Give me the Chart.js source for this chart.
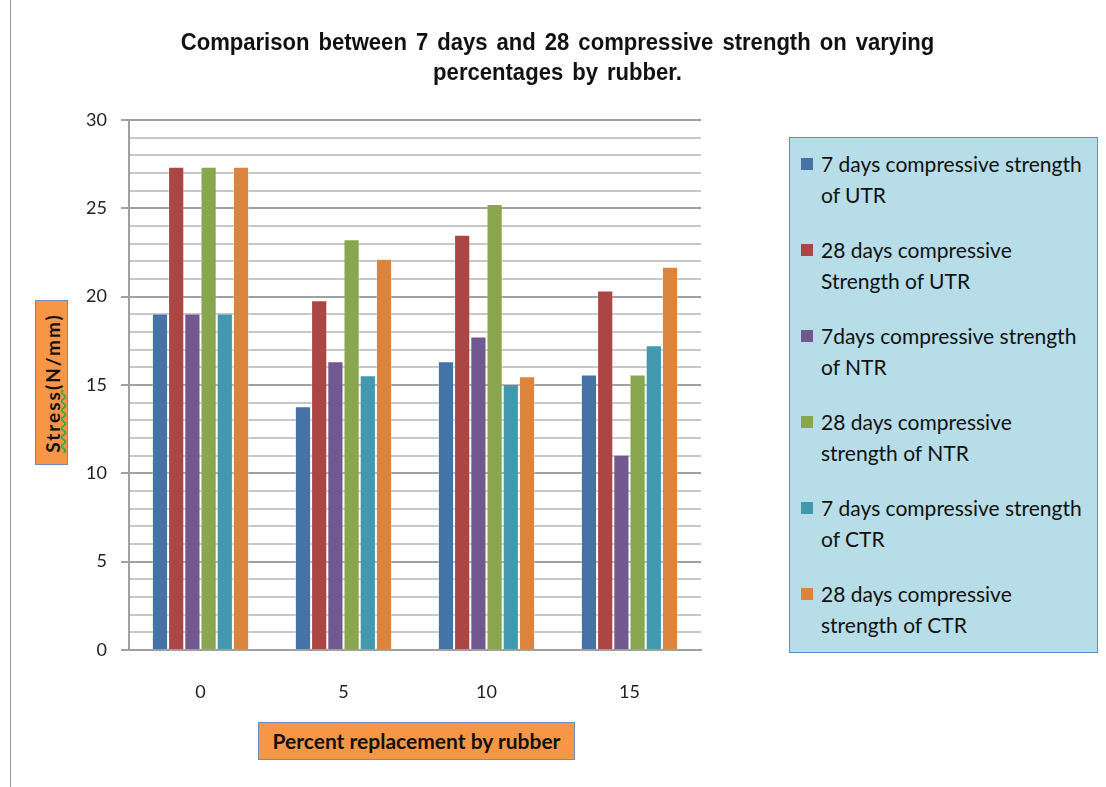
<!DOCTYPE html>
<html>
<head>
<meta charset="utf-8">
<script src="https://cdn.jsdelivr.net/npm/chart.js@4"></script>
<style>
  body { margin: 0; background: #fff; }
  #wrap { position: relative; width: 1106px; height: 787px; }
  #edge { position: absolute; left: 10px; top: 0; width: 1px; height: 787px; background: #9a9a9a; }
  #title { position: absolute; left: 0; top: 27px; width: 1115px; text-align: center;
    font-family: "Liberation Sans", Arial, sans-serif; font-weight: bold; font-size: 23px; line-height: 30px;
    color: #111; transform: scaleX(0.96); transform-origin: 557px 0; word-spacing: 3px; }
  #legend { position: absolute; left: 789px; top: 137px; width: 309px; height: 516px;
    background: #b7dde8; border: 1.5px solid #5b8fc9; box-sizing: border-box;
    font-family: Lato, "Open Sans", sans-serif; font-size: 21px; color: #111; }
  .item { position: absolute; left: 31px; width: 275px; line-height: 31px; white-space: nowrap; }
  .item i { position: absolute; left: -20px; top: 10px; width: 12px; height: 12px; }
  .box { position: absolute; background: #f79646; border: 1px solid #6a8fbf; box-sizing: border-box;
    font-family: Lato, "Open Sans", sans-serif; font-weight: bold; color: #111; }
  #ytitle { left: 35px; top: 300px; width: 33px; height: 165px; }
  #ytitle span { position: absolute; left: 50%; top: 50%; transform: translate(-50%, -50%) rotate(-90deg);
    white-space: nowrap; font-size: 19px; letter-spacing: 2px; }
  #ytitle u { text-decoration: underline wavy #3aa83a; }
  #xtitle { left: 258px; top: 722px; width: 317px; height: 38px; font-size: 21px; line-height: 36px; text-align: center; }
</style>
</head>
<body>
<div id="wrap">
  <canvas id="chart" width="1106" height="787"></canvas>
  <div id="edge"></div>
  <div id="title">Comparison between 7 days and 28 compressive strength on varying<br>percentages by rubber.</div>
  <div id="legend"></div>
  <div class="box" id="ytitle"><span><u>Stress</u>(N/mm)</span></div>
  <div class="box" id="xtitle">Percent replacement by rubber</div>
</div>
<script>
const categories = ["0", "5", "10", "15"];
const utr7 = [19.05, 13.8, 16.35, 15.6];
const utr28 = [27.35, 19.8, 23.5, 20.35];
const ntr7 = [19.05, 16.35, 17.75, 11.05];
const ntr28 = [27.35, 23.25, 25.25, 15.6];
const ctr7 = [19.05, 15.55, 15.05, 17.25];
const ctr28 = [27.35, 22.15, 15.5, 21.7];
const seriesNames = [
  ["7 days compressive strength", "of UTR"],
  ["28 days compressive", "Strength of UTR"],
  ["7days compressive strength", "of NTR"],
  ["28 days compressive", "strength of NTR"],
  ["7 days compressive strength", "of CTR"],
  ["28 days compressive", "strength of CTR"]
];
const colors = ["#4572a7", "#aa4643", "#71588f", "#89a54e", "#4198af", "#db843d"];
const allValues = [utr7, utr28, ntr7, ntr28, ctr7, ctr28];

const datasets = allValues.map((vals, i) => ({
  label: seriesNames[i].join(" "),
  data: vals,
  backgroundColor: colors[i],
  borderColor: "rgba(255,255,255,0.35)",
  borderWidth: 1,
  categoryPercentage: 0.68,
  barPercentage: 1
}));

const tickFont = { family: "Lato, 'Open Sans', sans-serif", size: 18 };

new Chart(document.getElementById("chart"), {
  type: "bar",
  data: { labels: categories, datasets: datasets },
  options: {
    responsive: false,
    animation: false,
    layout: { padding: { top: 120, right: 405, left: 0, bottom: 0 } },
    plugins: {
      legend: { display: false },
      tooltip: { enabled: false },
      title: { display: false }
    },
    scales: {
      x: {
        grid: { display: false },
        border: { color: "#a0a0a0", width: 2 },
        ticks: { color: "#222", font: tickFont, padding: 23 },
        afterFit: s => { s.height = 137; }
      },
      y: {
        min: 0, max: 30,
        grid: {
          color: c => (c.tick && c.tick.value % 5 === 0) ? "#a0a0a0" : "#c8c8c8",
          lineWidth: 2,
          tickLength: 8,
          tickColor: c => (c.tick && c.tick.value % 5 === 0) ? "#a0a0a0" : "rgba(0,0,0,0)"
        },
        border: { color: "#a0a0a0", width: 2 },
        ticks: {
          stepSize: 1,
          autoSkip: false,
          color: "#222",
          font: tickFont,
          padding: 14,
          callback: v => v % 5 === 0 ? v : ""
        },
        afterFit: s => { s.width = 129; }
      }
    }
  }
});

// html legend built from the datasets
const legend = document.getElementById("legend");
datasets.forEach((d, i) => {
  const el = document.createElement("div");
  el.className = "item";
  el.style.top = (10 + i * 86) + "px";
  el.innerHTML = '<i style="background:' + colors[i] + '"></i>' + seriesNames[i][0] + "<br>" + seriesNames[i][1];
  legend.appendChild(el);
});
</script>
</body>
</html>
